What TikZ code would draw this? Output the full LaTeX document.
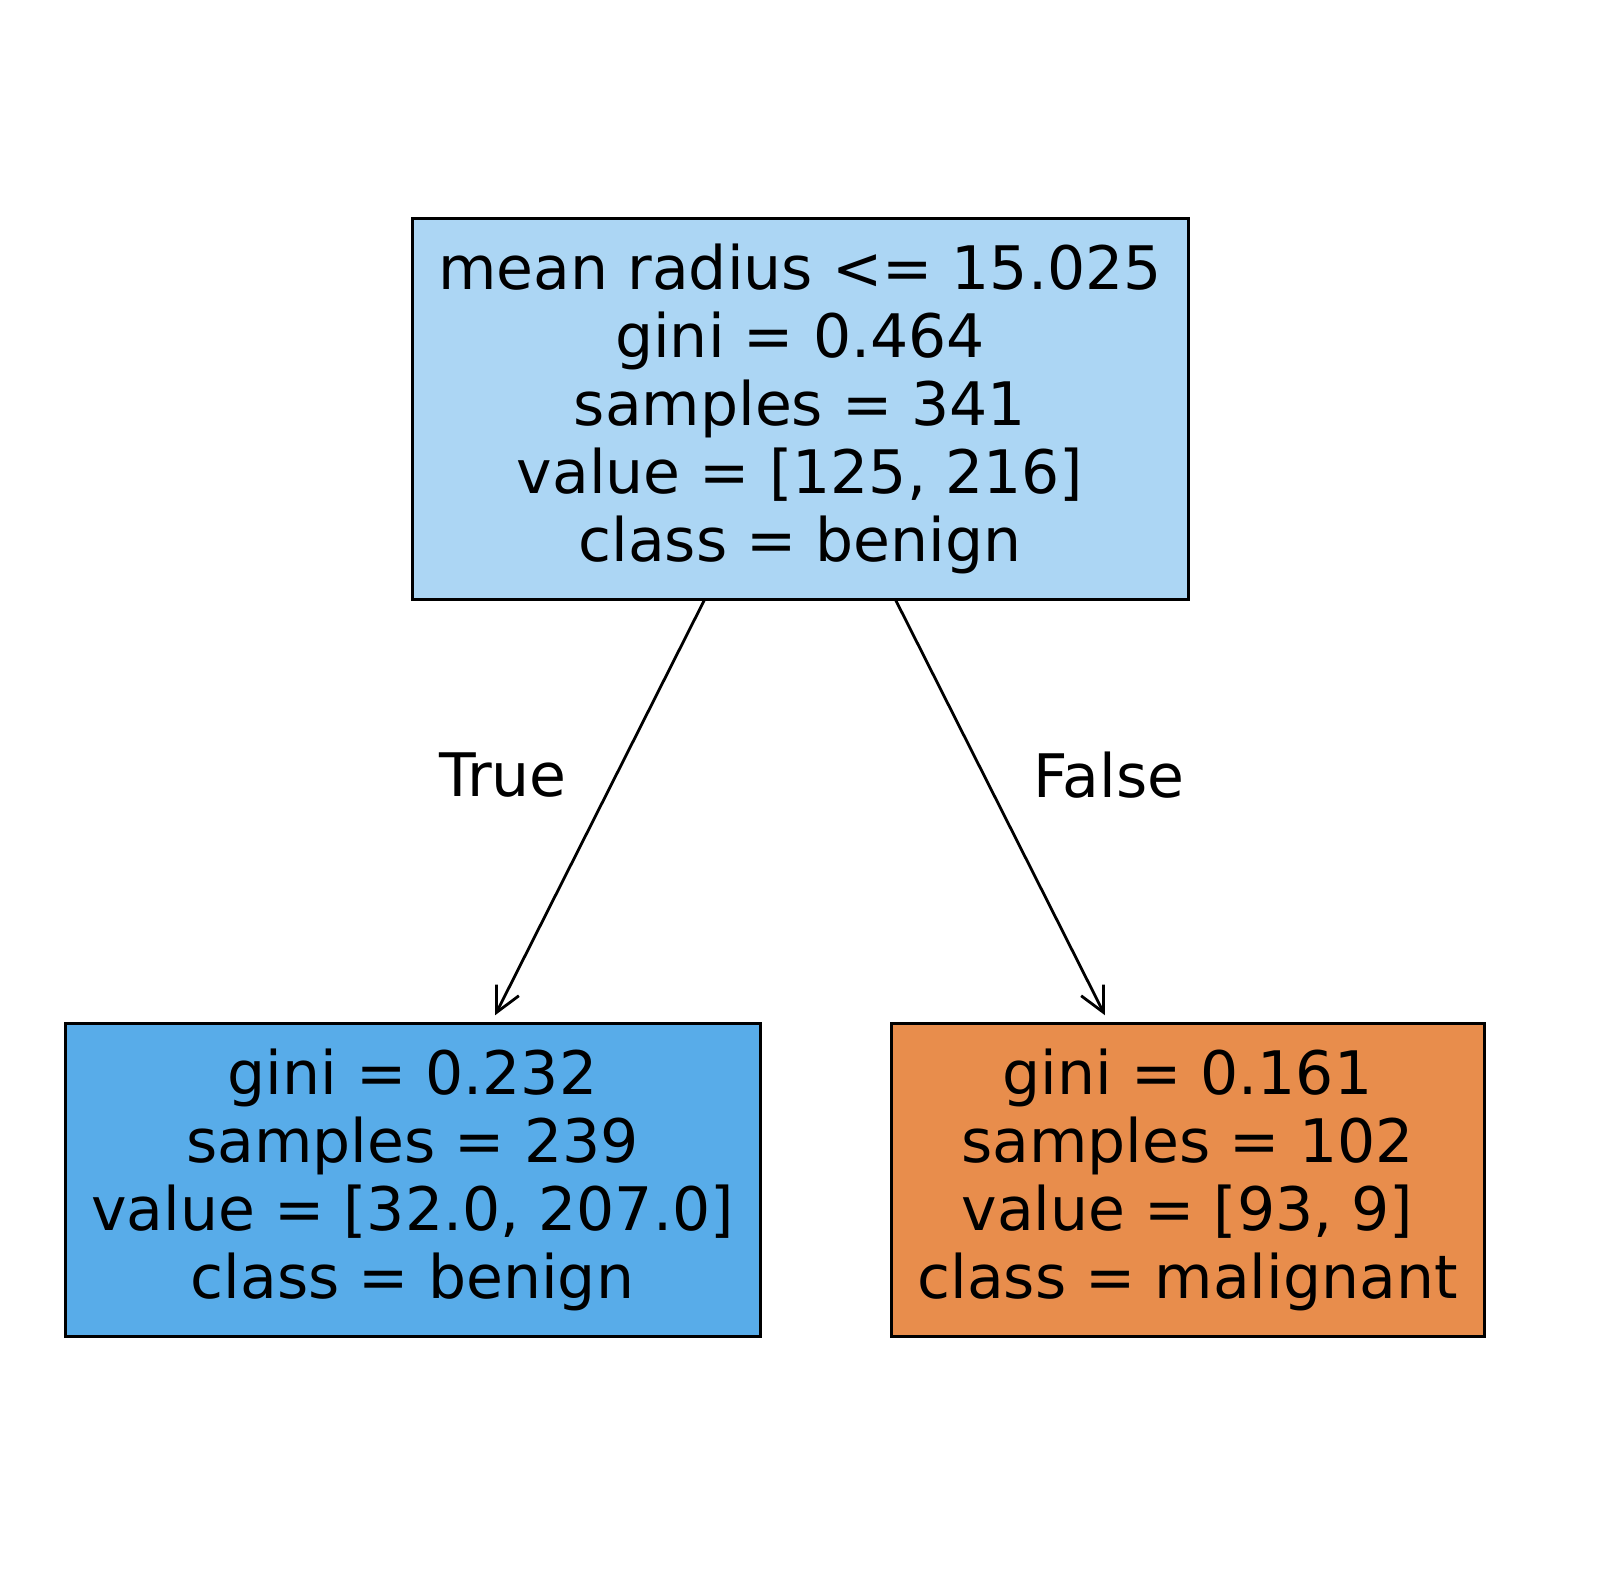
\documentclass[tikz,border=0pt]{standalone}
\usepackage{fontspec}
\setmainfont{DejaVu Sans}
\usepackage{tikz}
\usetikzlibrary{arrows.meta}
\usetikzlibrary{positioning}

\definecolor{rootblue}{RGB}{172,214,244}
\definecolor{leafblue}{RGB}{88,172,233}
\definecolor{leaforange}{RGB}{232,141,76}

\begin{document}
\begin{tikzpicture}[x=0.5pt,y=-0.5pt,
  box/.style={rectangle,draw=black,line width=1.5pt,inner sep=0pt,align=center,font=\fontsize{30}{34}\selectfont},
  edge/.style={line width=1.4pt,-{Straight Barb[length=12.5pt,width=12.5pt,line width=1.4pt]},shorten >=3.5pt},
  lbl/.style={font=\fontsize{30}{34}\selectfont}]
\useasboundingbox (0,0) rectangle (1599,1589);
\node[box,fill=rootblue,minimum width=388pt,minimum height=190pt](root) at (800,409){mean radius <= 15.025\\gini = 0.464\\samples = 341\\value = [125, 216]\\class = benign};
\node[box,fill=leafblue,minimum width=347.5pt,minimum height=156.5pt](left) at (412.5,1179.5){gini = 0.232\\samples = 239\\value = [32.0, 207.0]\\class = benign};
\node[box,fill=leaforange,minimum width=296.5pt,minimum height=156.5pt](right) at (1187.5,1179.5){gini = 0.161\\samples = 102\\value = [93, 9]\\class = malignant};
\draw[edge](root)--(left);
\draw[edge](root)--(right);
\node[lbl](true) at (503,775){True};
\node[lbl](false) at (1109,775){False};
\end{tikzpicture}
\end{document}
